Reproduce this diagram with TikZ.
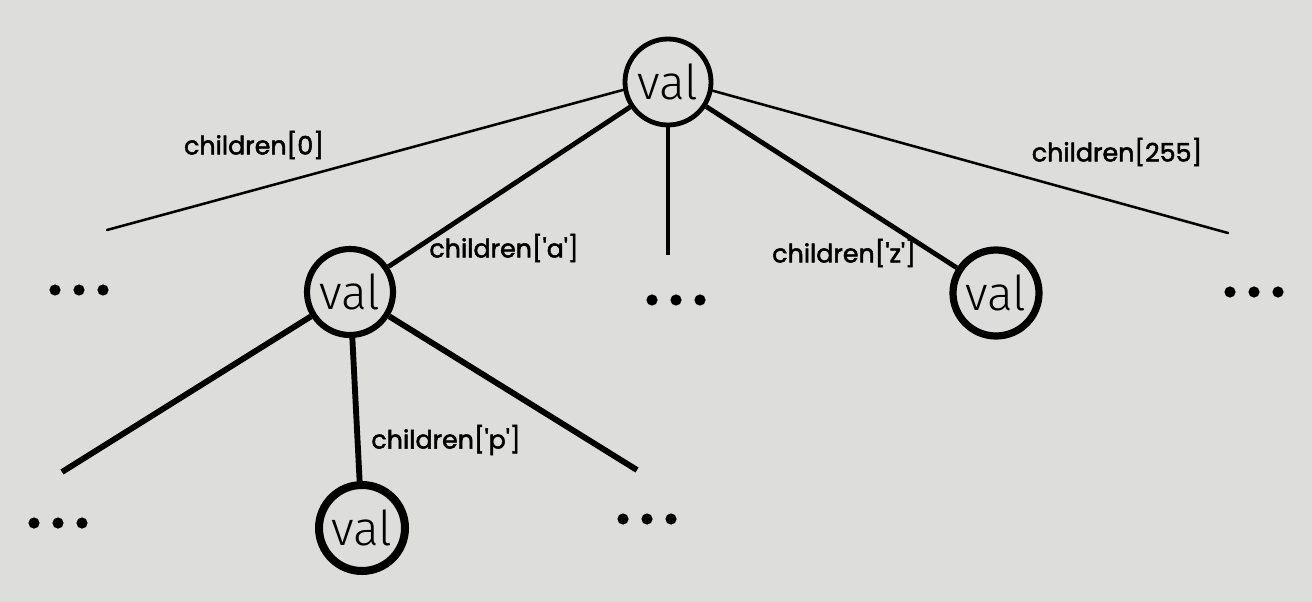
\documentclass[tikz,border=0pt]{standalone}
\usepackage{fontspec}
\setmainfont{Open Sans}
\newfontfamily\valfont{Fira Sans Light}
\newfontfamily\labelfont[FakeBold=2]{Poppins}
\definecolor{bg}{RGB}{221,221,220}
\begin{document}
\begin{tikzpicture}[x=0.75pt,y=-0.75pt,
  valnode/.style={circle,draw=black,fill=bg,minimum size=64.5pt,inner sep=0pt,font=\valfont\fontsize{36}{40}\selectfont},
  lbl/.style={font=\labelfont\fontsize{19}{22}\selectfont,inner sep=0pt},
  thin/.style={line width=1.9pt},
  thick1/.style={line width=3.6pt},
  thick2/.style={line width=4.4pt},
  dotsbox/.style={minimum width=50pt,minimum height=10pt,inner sep=0pt,
    path picture={\foreach \dx in {-1,0,1} \fill (path picture bounding box.center) ++(\dx*24,0) circle[radius=5.6];}}
]
\fill[bg] (0,0) rectangle (1312,602);
\useasboundingbox (0,0) rectangle (1312,602);

\node[valnode,line width=3.6pt] (root) at (668,82) {val};
\node[valnode,line width=4.6pt] (a) at (350,292) {val};
\node[valnode,line width=5.4pt] (z) at (996,293) {val};
\node[valnode,line width=6pt] (p) at (362,528) {val};

\coordinate (l0) at (107,230);
\coordinate (l255) at (1228,233);
\coordinate (lmid) at (668,255);
\coordinate (al) at (62,472);
\coordinate (ar) at (637,470);

\draw[thin,line cap=round] (root.190) -- (l0);
\draw[thin,line cap=round] (root.349) -- (l255);
\draw[thick1] (root) -- (a);
\draw[thick1] (root) -- (z);
\draw[thick1] (root) -- (lmid);
\draw[thick2] (a) -- (al);
\draw[thick2] (a) -- (p);
\draw[thick2] (a) -- (ar);

\node[dotsbox] (d0) at (79,290) {};
\node[dotsbox] (dm) at (676,300) {};
\node[dotsbox] (d255) at (1254,292) {};
\node[dotsbox] (dal) at (58,523) {};
\node[dotsbox] (dar) at (647,519) {};

\node[lbl] (t0) at (254,145) {children[0]};
\node[lbl] (ta) at (504,248) {children['a']};
\node[lbl] (tz) at (844,253) {children['z']};
\node[lbl] (t255) at (1117,152) {children[255]};
\node[lbl] (tp) at (446,440) {children['p']};
\end{tikzpicture}
\end{document}
